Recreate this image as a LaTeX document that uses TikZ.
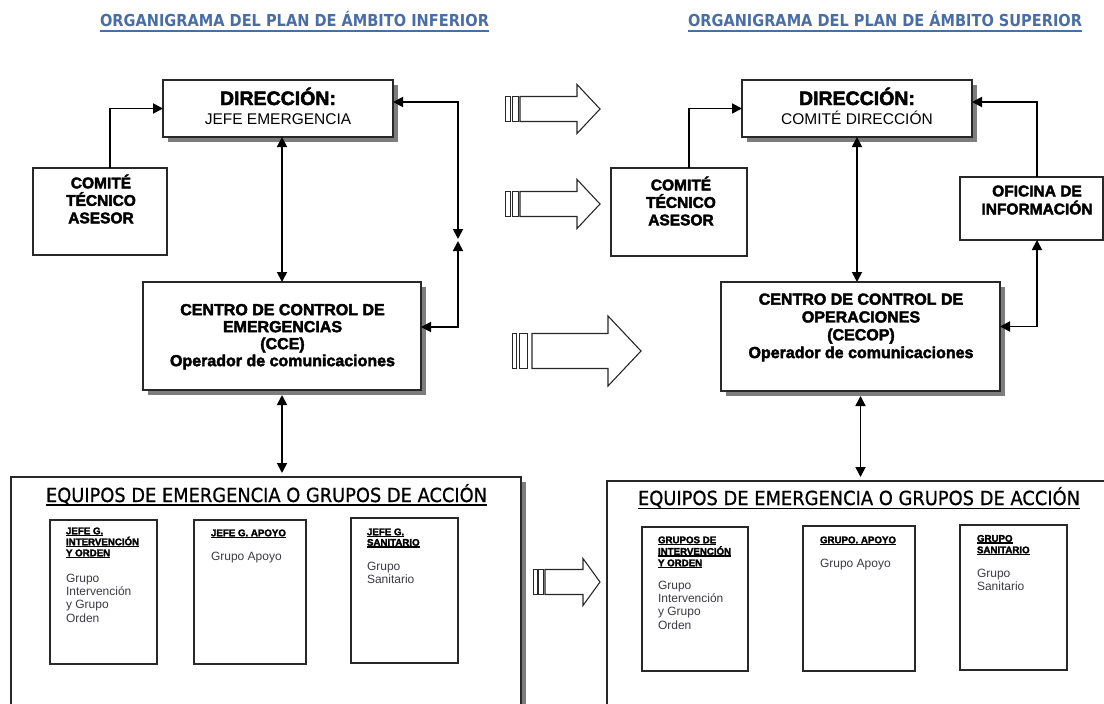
\documentclass[tikz,border=0pt]{standalone}
\usepackage{fontspec}
\setmainfont{Liberation Sans}[BoldFeatures={FakeBold=2.5}]
\newfontfamily\tfont{DejaVu Sans}
\newfontfamily\efont{DejaVu Sans}[FakeBold=0.8]
\usepackage{graphicx}
\usetikzlibrary{shadows,calc,arrows.meta}
\definecolor{tblue}{RGB}{72,110,168}
\definecolor{bline}{RGB}{40,40,40}
\definecolor{shd}{RGB}{125,125,125}
\definecolor{btxt}{RGB}{60,60,66}
\newcommand\myul[1]{\setbox0\hbox{#1}\rlap{\rule[-1.8pt]{\wd0}{1.3pt}}\box0}
\tikzset{
  box/.style={draw=bline, line width=1.8pt, fill=white, inner sep=0pt, outer sep=0pt},
  shbox/.style={box, drop shadow={shadow xshift=5pt, shadow yshift=-5pt, opacity=1, fill=shd}},
  conn/.style={line width=1.8pt, -{Triangle[length=10pt,width=10pt]}},
  dconn/.style={line width=1.8pt, {Triangle[length=10pt,width=10pt]}-{Triangle[length=10pt,width=10pt]}},
  hollow/.style={draw=bline, line width=1.1pt, fill=white, line join=miter},
  bar/.style={draw=bline, line width=0.9pt, fill=white},
  txt/.style={inner sep=0pt, outer sep=0pt},
  bigtxt/.style={txt, font=\bfseries\fontsize{16}{17}\selectfont, align=center, anchor=north},
  midtxt/.style={txt, font=\bfseries\fontsize{15.5}{17.5}\selectfont, align=center, anchor=south},
  headtxt/.style={txt, font=\bfseries\fontsize{9.7}{11}\selectfont, align=left, anchor=north west},
  bodytxt/.style={txt, font=\fontsize{12}{13.3}\selectfont, text=btxt, align=left, anchor=north west},
  ttl/.style={txt, anchor=base west, text=tblue},
  eqttl/.style={txt, anchor=base west},
}
\begin{document}
\begin{tikzpicture}[x=1pt,y=-1pt]
\useasboundingbox (0,0) rectangle (1104,704);
\clip (0,0) rectangle (1104,704);
\fill[white] (0,0) rectangle (1104,704);

% titles
\node[ttl] (tL) at (100,27) {\resizebox{389pt}{15.3pt}{\tfont\bfseries\fontsize{14}{14}\selectfont ORGANIGRAMA DEL PLAN DE ÁMBITO INFERIOR}};
\draw[tblue, line width=2pt] ([yshift=-3.8pt]tL.base west) -- ([yshift=-3.8pt]tL.base east);
\node[ttl] (tR) at (688,27) {\resizebox{394pt}{15.3pt}{\tfont\bfseries\fontsize{14}{14}\selectfont ORGANIGRAMA DEL PLAN DE ÁMBITO SUPERIOR}};
\draw[tblue, line width=2pt] ([yshift=-3.8pt]tR.base west) -- ([yshift=-3.8pt]tR.base east);

% ---------- left ----------
\node[shbox, minimum width=230pt, minimum height=57pt] (dirL) at (278,108.5) {};
\node[txt, anchor=base, font=\bfseries\fontsize{19.5}{20}\selectfont] (dirL1) at (278,105) {DIRECCIÓN:};
\node[txt, anchor=base, font=\fontsize{15.5}{16}\selectfont] (dirL2) at (278,124) {JEFE EMERGENCIA};

\node[box, minimum width=134pt, minimum height=87pt] (ctaL) at (100,211.5) {};
\node[midtxt] (ctaLt) at (101,223.5) {COMITÉ\\TÉCNICO\\ASESOR};

\node[shbox, minimum width=278pt, minimum height=108pt] (cceL) at (282,336) {};
\node[bigtxt] (cceLt) at (282.5,304) {CENTRO DE CONTROL DE\\EMERGENCIAS\\(CCE)\\Operador de comunicaciones};

\node[shbox, minimum width=510pt, minimum height=263pt] (eqL) at (266,608.5) {};
\node[eqttl] (eL) at (46,502) {\resizebox{441pt}{18pt}{\efont\fontsize{18}{18}\selectfont EQUIPOS DE EMERGENCIA O GRUPOS DE ACCIÓN}};
\draw[line width=1.6pt] ([yshift=-3pt]eL.base west) -- ([yshift=-3pt]eL.base east);

\node[box, minimum width=107pt, minimum height=144pt] (L1) at (103.5,592) {};
\node[box, minimum width=112pt, minimum height=144pt] (L2) at (250,592) {};
\node[box, minimum width=107pt, minimum height=145pt] (L3) at (404.5,590.5) {};
\node[headtxt] (hL1) at (66,527.5) {\myul{JEFE G.}\\\myul{INTERVENCIÓN}\\\myul{Y ORDEN}};
\node[bodytxt] (bL1) at (66,574) {Grupo\\Intervención\\y Grupo\\Orden};
\node[headtxt] (hL2) at (211,529.5) {\myul{JEFE G. APOYO}};
\node[bodytxt] (bL2) at (211,552) {Grupo Apoyo};
\node[headtxt, font=\bfseries\fontsize{9.7}{10.5}\selectfont] (hL3) at (367,528.5) {\myul{JEFE G.}\\\myul{SANITARIO}};
\node[bodytxt] (bL3) at (367,562) {Grupo\\Sanitario};

% ---------- right ----------
\node[shbox, minimum width=230pt, minimum height=57pt] (dirR) at (857,108.5) {};
\node[txt, anchor=base, font=\bfseries\fontsize{19.5}{20}\selectfont] (dirR1) at (857,105) {DIRECCIÓN:};
\node[txt, anchor=base, font=\fontsize{15.5}{16}\selectfont] (dirR2) at (857,124) {COMITÉ DIRECCIÓN};

\node[box, minimum width=136pt, minimum height=88pt] (ctaR) at (679,212) {};
\node[midtxt] (ctaRt) at (681,225.5) {COMITÉ\\TÉCNICO\\ASESOR};

\node[box, minimum width=143pt, minimum height=63pt] (ofR) at (1031.5,208.5) {};
\node[midtxt, font=\bfseries\fontsize{15.5}{18}\selectfont] (ofRt) at (1037,214.5) {OFICINA DE\\INFORMACIÓN};

\node[shbox, minimum width=279pt, minimum height=109pt] (cecopR) at (860.5,336.5) {};
\node[bigtxt, font=\bfseries\fontsize{16}{17.8}\selectfont] (cecopRt) at (861,293.5) {CENTRO DE CONTROL DE\\OPERACIONES\\(CECOP)\\Operador de comunicaciones};

\node[box, minimum width=523pt, minimum height=259pt] (eqR) at (868.5,610.5) {};
\node[eqttl] (eR) at (638,505) {\resizebox{442pt}{18pt}{\efont\fontsize{18}{18}\selectfont EQUIPOS DE EMERGENCIA O GRUPOS DE ACCIÓN}};
\draw[line width=1.6pt] ([yshift=-3.5pt]eR.base west) -- ([yshift=-3.5pt]eR.base east);

\node[box, minimum width=106pt, minimum height=144pt] (R1) at (695,599) {};
\node[box, minimum width=112pt, minimum height=145pt] (R2) at (859,598.5) {};
\node[box, minimum width=107pt, minimum height=145pt] (R3) at (1013.5,597.5) {};
\node[headtxt, font=\bfseries\fontsize{9.7}{11.5}\selectfont] (hR1) at (658,536.5) {\myul{GRUPOS DE}\\\myul{INTERVENCIÓN}\\\myul{Y ORDEN}};
\node[bodytxt] (bR1) at (658,581) {Grupo\\Intervención\\y Grupo\\Orden};
\node[headtxt] (hR2) at (820,536.5) {\myul{GRUPO. APOYO}};
\node[bodytxt] (bR2) at (820,559) {Grupo Apoyo};
\node[headtxt, font=\bfseries\fontsize{9.7}{11.5}\selectfont] (hR3) at (977,535) {\myul{GRUPO}\\\myul{SANITARIO}};
\node[bodytxt, font=\fontsize{12}{13.5}\selectfont] (bR3) at (977,569) {Grupo\\Sanitario};

% ---------- connectors left ----------
\coordinate (mL) at (458,240);
\draw[conn] ([xshift=77pt]ctaL.north west) |- (dirL.west);
\draw[dconn] (cceL.north) -- (cceL.north |- dirL.south);
\draw[dconn] ([yshift=6.5pt]dirL.east) -| ([yshift=1pt]mL);
\draw[dconn] ([yshift=-1pt]mL) |- ([yshift=9pt]cceL.east);
\draw[dconn] ([yshift=-5pt]cceL.south) -- ($(cceL.south |- eqL.north)+(0,-4)$);

% ---------- connectors right ----------
\draw[conn] ([xshift=78pt]ctaR.north west) |- (dirR.west);
\draw[conn] ([xshift=77pt]ofR.north west) |- ([yshift=6.5pt]dirR.east);
\draw[dconn] (dirR.south) -- (dirR.south |- cecopR.north);
\draw[dconn] ([yshift=10pt]cecopR.east) -| ([xshift=77pt]ofR.south west);
\draw[dconn] ([yshift=-5pt]cecopR.south) -- ($(cecopR.south |- eqR.north)+(0,-4)$);

% ---------- big hollow arrows ----------
% A1
\draw[bar] (505,96.5) rectangle (510,121.5);
\draw[bar] (512,96.5) rectangle (518,121.5);
\draw[hollow] (520,96.5) -- (577,96.5) -- (577,84.5) -- (600,109) -- (577,133.5) -- (577,121.5) -- (520,121.5) -- cycle;
% A2
\draw[bar] (505,191.5) rectangle (510,216.5);
\draw[bar] (512,191.5) rectangle (518,216.5);
\draw[hollow] (520,191.5) -- (577,191.5) -- (577,179.5) -- (600,204) -- (577,228.5) -- (577,216.5) -- (520,216.5) -- cycle;
% A3
\draw[bar] (512,333.5) rectangle (516.5,368.5);
\draw[bar] (519,333.5) rectangle (527,368.5);
\draw[hollow] (532,333.5) -- (608,333.5) -- (608,316) -- (641,351) -- (608,386) -- (608,368.5) -- (532,368.5) -- cycle;
% A4
\draw[bar] (533.5,569.5) rectangle (537,594.5);
\draw[bar] (538.5,569.5) rectangle (543,594.5);
\draw[hollow] (545,569.5) -- (583,569.5) -- (583,558.5) -- (600,582) -- (583,605.5) -- (583,594.5) -- (545,594.5) -- cycle;
\end{tikzpicture}
\end{document}
